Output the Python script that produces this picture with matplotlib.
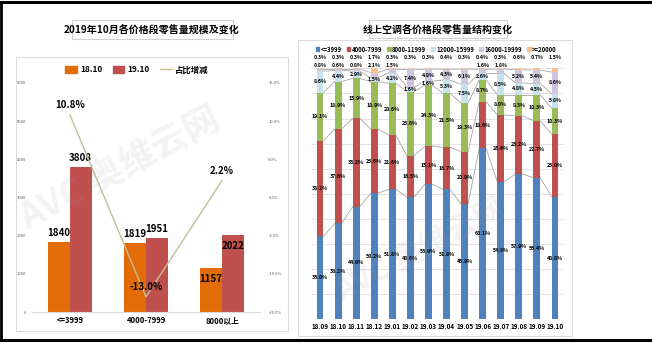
import numpy as np
import matplotlib
matplotlib.use("Agg")
import matplotlib.pyplot as plt
from matplotlib.patches import Rectangle, Patch
from matplotlib.lines import Line2D

plt.rcParams['font.family'] = ['Noto Sans CJK SC', 'DejaVu Sans']

# left chart data
price_cats = ['<=3999', '4000-7999', '8000以上']
vol_1810 = [1840, 1819, 1157]
vol_1910 = [3808, 1951, 2022]
share_chg = [10.8, -13.0, 2.2]

# right chart data
months = ['18.09', '18.10', '18.11', '18.12', '19.01', '19.02', '19.03',
          '19.04', '19.05', '19.06', '19.07', '19.08', '19.09', '19.10']
seg_names = ['<=3999', '4000-7999', '8000-11999', '12000-15999', '16000-19999', '>=20000']
s_le3999 = [33.0, 38.2, 44.9, 50.2, 51.8, 48.6, 53.9, 51.8, 45.9, 68.1, 54.8, 57.9, 56.4, 48.8]
s_4000 = [38.2, 37.6, 35.2, 25.6, 21.6, 16.5, 15.1, 16.7, 20.9, 18.6, 26.6, 23.2, 22.7, 25.0]
s_8000 = [19.1, 18.9, 15.9, 18.9, 20.6, 25.6, 24.3, 21.5, 19.3, 8.7, 8.0, 8.3, 10.3, 10.3]
s_12000 = [8.6, 4.4, 2.9, 1.5, 4.2, 1.6, 1.6, 5.3, 7.5, 2.6, 8.5, 4.8, 4.5, 5.8]
s_16000 = [0.8, 0.6, 0.8, 2.1, 1.5, 7.4, 4.8, 4.3, 6.1, 1.6, 1.8, 5.2, 5.4, 8.6]
s_ge20000 = [0.3, 0.3, 0.3, 1.7, 0.3, 0.3, 0.3, 0.4, 0.3, 0.4, 0.3, 0.6, 0.7, 1.5]

W, H = 652, 344
fig = plt.figure(figsize=(W / 100, H / 100), dpi=100)
fig.patch.set_facecolor('white')

def fx(x):
    return x / W

def fy(y):
    return 1 - y / H

# outer frame and panels
fig.add_artist(Line2D([0, 1], [fy(1.5), fy(1.5)], color='black', lw=2.2))
fig.add_artist(Line2D([0, 1], [fy(340), fy(340)], color='black', lw=2.2))
fig.add_artist(Line2D([fx(1), fx(1)], [fy(1.5), fy(340)], color='black', lw=2.0))
fig.add_artist(Rectangle((fx(16), fy(331)), fx(272), (331 - 57) / H, fill=False,
                         ec='#dcdcdc', lw=0.8))
fig.add_artist(Rectangle((fx(298), fy(336)), fx(274), (336 - 40) / H, fill=False,
                         ec='#dcdcdc', lw=0.8))
fig.add_artist(Rectangle((fx(72), fy(39)), fx(161), 19 / H, fill=False, ec='#d0d0d0', lw=0.8))
fig.add_artist(Rectangle((fx(369), fy(38)), fx(138), 18 / H, fill=False, ec='#d0d0d0', lw=0.8))
fig.text(fx(152), fy(29.5), '2019年10月各价格段零售量规模及变化', ha='center', va='center',
         fontsize=7.2, fontweight='heavy')
fig.text(fx(438), fy(29), '线上空调各价格段零售量结构变化', ha='center', va='center',
         fontsize=7.2, fontweight='heavy')

# ---- left chart ----
ax = fig.add_axes([fx(32), fy(312), fx(228), (312 - 83) / H])
x = np.arange(len(price_cats))
bw = 0.285
ax.bar(x - bw / 2, vol_1810, bw, color='#E36C09', label='18.10', zorder=2)
ax.bar(x + bw / 2, vol_1910, bw, color='#C0504D', label='19.10', zorder=2)
ax.set_xlim(-0.5, 2.5)
ax.set_ylim(0, 6000)
ax.set_yticks(np.arange(0, 6001, 1000))
ax.tick_params(axis='y', labelsize=3, length=0, colors='#555555', pad=4)
ax.set_xticks(x)
ax.set_xticklabels(price_cats, fontsize=5.5, fontweight='bold')
ax.tick_params(axis='x', length=0, pad=3)
for s in ['top', 'right', 'left']:
    ax.spines[s].set_visible(False)
ax.spines['bottom'].set_color('#d9d9d9')

offs_a = [4, 4, -10]
offs_b = [4, 4, -10]
for i in range(len(price_cats)):
    ax.annotate(str(vol_1810[i]), (x[i] - bw / 2, vol_1810[i]), xytext=(0, offs_a[i]),
                textcoords='offset points', ha='center', fontsize=7, fontweight='bold')
    ax.annotate(str(vol_1910[i]), (x[i] + bw / 2, vol_1910[i]), xytext=(0, offs_b[i]),
                textcoords='offset points', ha='center', fontsize=7, fontweight='bold')

ax2 = ax.twinx()
ax2.plot(x, share_chg, color='#C4BD97', lw=1.0, label='占比增减', zorder=3)
ax2.set_ylim(-15, 15)
ax2.set_yticks(np.arange(-15, 16, 5))
ax2.set_yticklabels(['%.1f%%' % v for v in np.arange(-15, 16, 5)])
ax2.tick_params(axis='y', labelsize=3, length=0, colors='#555555', pad=6)
for s in ax2.spines.values():
    s.set_visible(False)
for i in range(len(price_cats)):
    ax2.annotate('%.1f%%' % share_chg[i], (x[i], share_chg[i]), xytext=(0, 5),
                 textcoords='offset points', ha='center', fontsize=7, fontweight='bold')

handles = [Patch(color='#E36C09', label='18.10'), Patch(color='#C0504D', label='19.10'),
           Line2D([], [], color='#C4BD97', lw=1.0, label='占比增减')]
fig.legend(handles=handles, loc='center', bbox_to_anchor=(fx(137), fy(70)), ncol=3,
           frameon=False, handlelength=1.4, handleheight=0.8,
           columnspacing=1.2, handletextpad=0.4, prop={'weight': 'bold', 'size': 6})

# watermark
fig.text(fx(120), fy(170), 'AVC 奥维云网', fontsize=26, color='#999999', alpha=0.12,
         rotation=28, ha='center', va='center', fontweight='bold')
fig.text(fx(420), fy(250), 'AVC 奥维云网', fontsize=22, color='#999999', alpha=0.12,
         rotation=28, ha='center', va='center', fontweight='bold')

# ---- right chart ----
bx = fig.add_axes([fx(311), fy(319.3), fx(253), (319.3 - 68.3) / H])
series = [s_le3999, s_4000, s_8000, s_12000, s_16000, s_ge20000]
colors = ['#4F81BD', '#C0504D', '#9BBB59', '#C6E2EC', '#CFC5DE', '#FAC08F']
xm = np.arange(len(months))
w = 0.38
bottom = np.zeros(len(months))
cums = []
for k, (vals, c) in enumerate(zip(series, colors)):
    vals = np.array(vals)
    bx.bar(xm, vals, w, bottom=bottom, color=c, label=seg_names[k], zorder=2)
    for i in range(len(months)):
        v = vals[i]
        if k == 5:
            yy = 104.5
        elif k == 4 and v < 3:
            yy = 101.0
        else:
            yy = bottom[i] + v / 2
        bx.text(xm[i], yy, '%.1f%%' % v, ha='center', va='center', fontsize=3.8,
                fontweight='bold', clip_on=False, zorder=4)
    bottom = bottom + vals
    cums.append(bottom.copy())

# series lines between bars
for cum in cums[:-1]:
    for i in range(len(months) - 1):
        bx.plot([xm[i] + w / 2, xm[i + 1] - w / 2], [cum[i], cum[i + 1]],
                color='#a6a6a6', lw=0.6, zorder=1)

bx.set_xlim(-0.5, len(months) - 0.5)
bx.set_ylim(0, 100)
bx.set_yticks(np.arange(0, 101, 10))
bx.yaxis.grid(True, color='#e3e3e3', lw=0.7, zorder=0)
bx.set_axisbelow(True)
bx.tick_params(axis='y', length=0, labelleft=False)
bx.set_xticks(xm)
bx.set_xticklabels(months, fontsize=4.6, fontweight='bold')
bx.tick_params(axis='x', length=0, pad=3)
for s in bx.spines.values():
    s.set_visible(False)

rh = [Patch(color=c, label=n) for c, n in zip(colors, seg_names)]
fig.legend(handles=rh, loc='center', bbox_to_anchor=(fx(436), fy(49)), ncol=6,
           frameon=False, handlelength=0.6, handleheight=0.6, columnspacing=0.9,
           handletextpad=0.2, prop={'weight': 'bold', 'size': 4.3})

fig.savefig('out.png', dpi=100)
